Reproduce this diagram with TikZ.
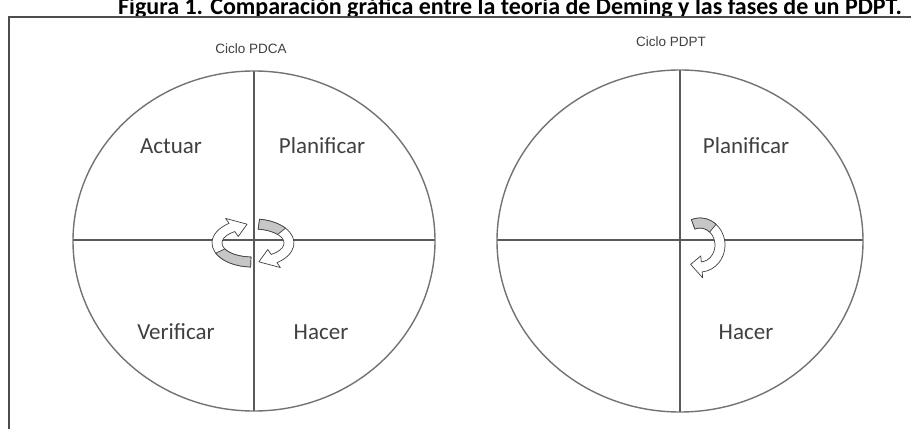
\documentclass[tikz,border=0pt]{standalone}
\usepackage{fontspec}
\setmainfont{Carlito}
\newfontfamily\cyclefont{Liberation Sans}
\usetikzlibrary{calc}
\definecolor{RingClr}{rgb}{0.45,0.45,0.45}
\definecolor{AxisClr}{rgb}{0.35,0.35,0.35}
\definecolor{LabelClr}{rgb}{0.25,0.25,0.25}
\definecolor{FrameClr}{rgb}{0.3,0.3,0.3}

% curved 3D-like arrow: centre, radii, start, end of shaft, tip, end of grey part
\newcommand{\turnarrow}[8]{%
  \pgfmathsetmacro{\aOx}{#3+5}\pgfmathsetmacro{\aOy}{#4+5}
  \pgfmathsetmacro{\aIx}{#3-5}\pgfmathsetmacro{\aIy}{#4-5}
  \pgfmathsetmacro{\aFx}{#3+11}\pgfmathsetmacro{\aFy}{#4+11}
  \pgfmathsetmacro{\aGx}{#3-11}\pgfmathsetmacro{\aGy}{#4-11}
  \draw[arrowline,fill=white] ($(#1,#2)+(#5:{\aOx} and {\aOy})$)
    arc[start angle=#5,end angle=#6,x radius=\aOx,y radius=\aOy]
    -- ($(#1,#2)+(#6:{\aFx} and {\aFy})$) -- ($(#1,#2)+(#7:#3 and #4)$)
    -- ($(#1,#2)+(#6:{\aGx} and {\aGy})$) -- ($(#1,#2)+(#6:{\aIx} and {\aIy})$)
    arc[start angle=#6,end angle=#5,x radius=\aIx,y radius=\aIy] -- cycle;
  \draw[arrowline,fill=gray!45] ($(#1,#2)+(#5:{\aOx} and {\aOy})$)
    arc[start angle=#5,end angle=#8,x radius=\aOx,y radius=\aOy]
    -- ($(#1,#2)+(#8:{\aIx} and {\aIy})$)
    arc[start angle=#8,end angle=#5,x radius=\aIx,y radius=\aIy] -- cycle;
}

\begin{document}
\begin{tikzpicture}[x=1pt,y=1pt,
  ring/.style={draw=RingClr,line width=1.4pt},
  axis/.style={draw=AxisClr,line width=1.3pt},
  phase/.style={text=LabelClr,font=\fontsize{23}{26}\selectfont,anchor=base},
  cycle/.style={text=LabelClr,font=\cyclefont\fontsize{13.5}{15}\selectfont},
  arrowline/.style={draw=black!75,line width=0.7pt,line join=round}]
\useasboundingbox[fill=white] (0,0) rectangle (911,429);

% title and frame
\node[font=\bfseries\fontsize{24}{27}\selectfont,anchor=base] (title) at (510,414)
  {Figura 1. Comparación gráfica entre la teoría de Deming y las fases de un PDPT.};
\draw[draw=FrameClr,line width=1.8pt] (9,0) -- (9,412) -- (911,412);

% left circle
\coordinate (pdca) at (254,188);
\begin{scope}
  \clip (pdca) ellipse[x radius=181,y radius=170];
  \draw[axis] (254,0) -- (254,429);
  \draw[axis] (0,189) -- (500,189);
\end{scope}
\draw[ring] (pdca) ellipse[x radius=181,y radius=170];
\node[cycle] (pdcaname) at (251,380) {Ciclo PDCA};
\node[phase] (actuar) at (171,275.5) {Actuar};
\node[phase] (planA) at (322,275.5) {Planificar};
\node[phase] (verificar) at (176,89.5) {Verificar};
\node[phase] (hacerA) at (321,89.5) {Hacer};
\turnarrow{252}{186}{35}{19}{268}{125}{98}{205}
\turnarrow{254}{186}{35}{19}{82}{-55}{-82}{38}

% right circle
\coordinate (pdpt) at (680,188);
\begin{scope}
  \clip (pdpt) ellipse[x radius=183,y radius=171];
  \draw[axis] (680,0) -- (680,429);
  \draw[axis] (400,189) -- (911,189);
\end{scope}
\draw[ring] (pdpt) ellipse[x radius=183,y radius=171];
\node[cycle] (pdptname) at (671,387) {Ciclo PDPT};
\node[phase] (planB) at (746,275.5) {Planificar};
\node[phase] (hacerB) at (746,89.5) {Hacer};
\turnarrow{700}{184}{20}{22}{110}{-85}{-118}{50}
\end{tikzpicture}
\end{document}
